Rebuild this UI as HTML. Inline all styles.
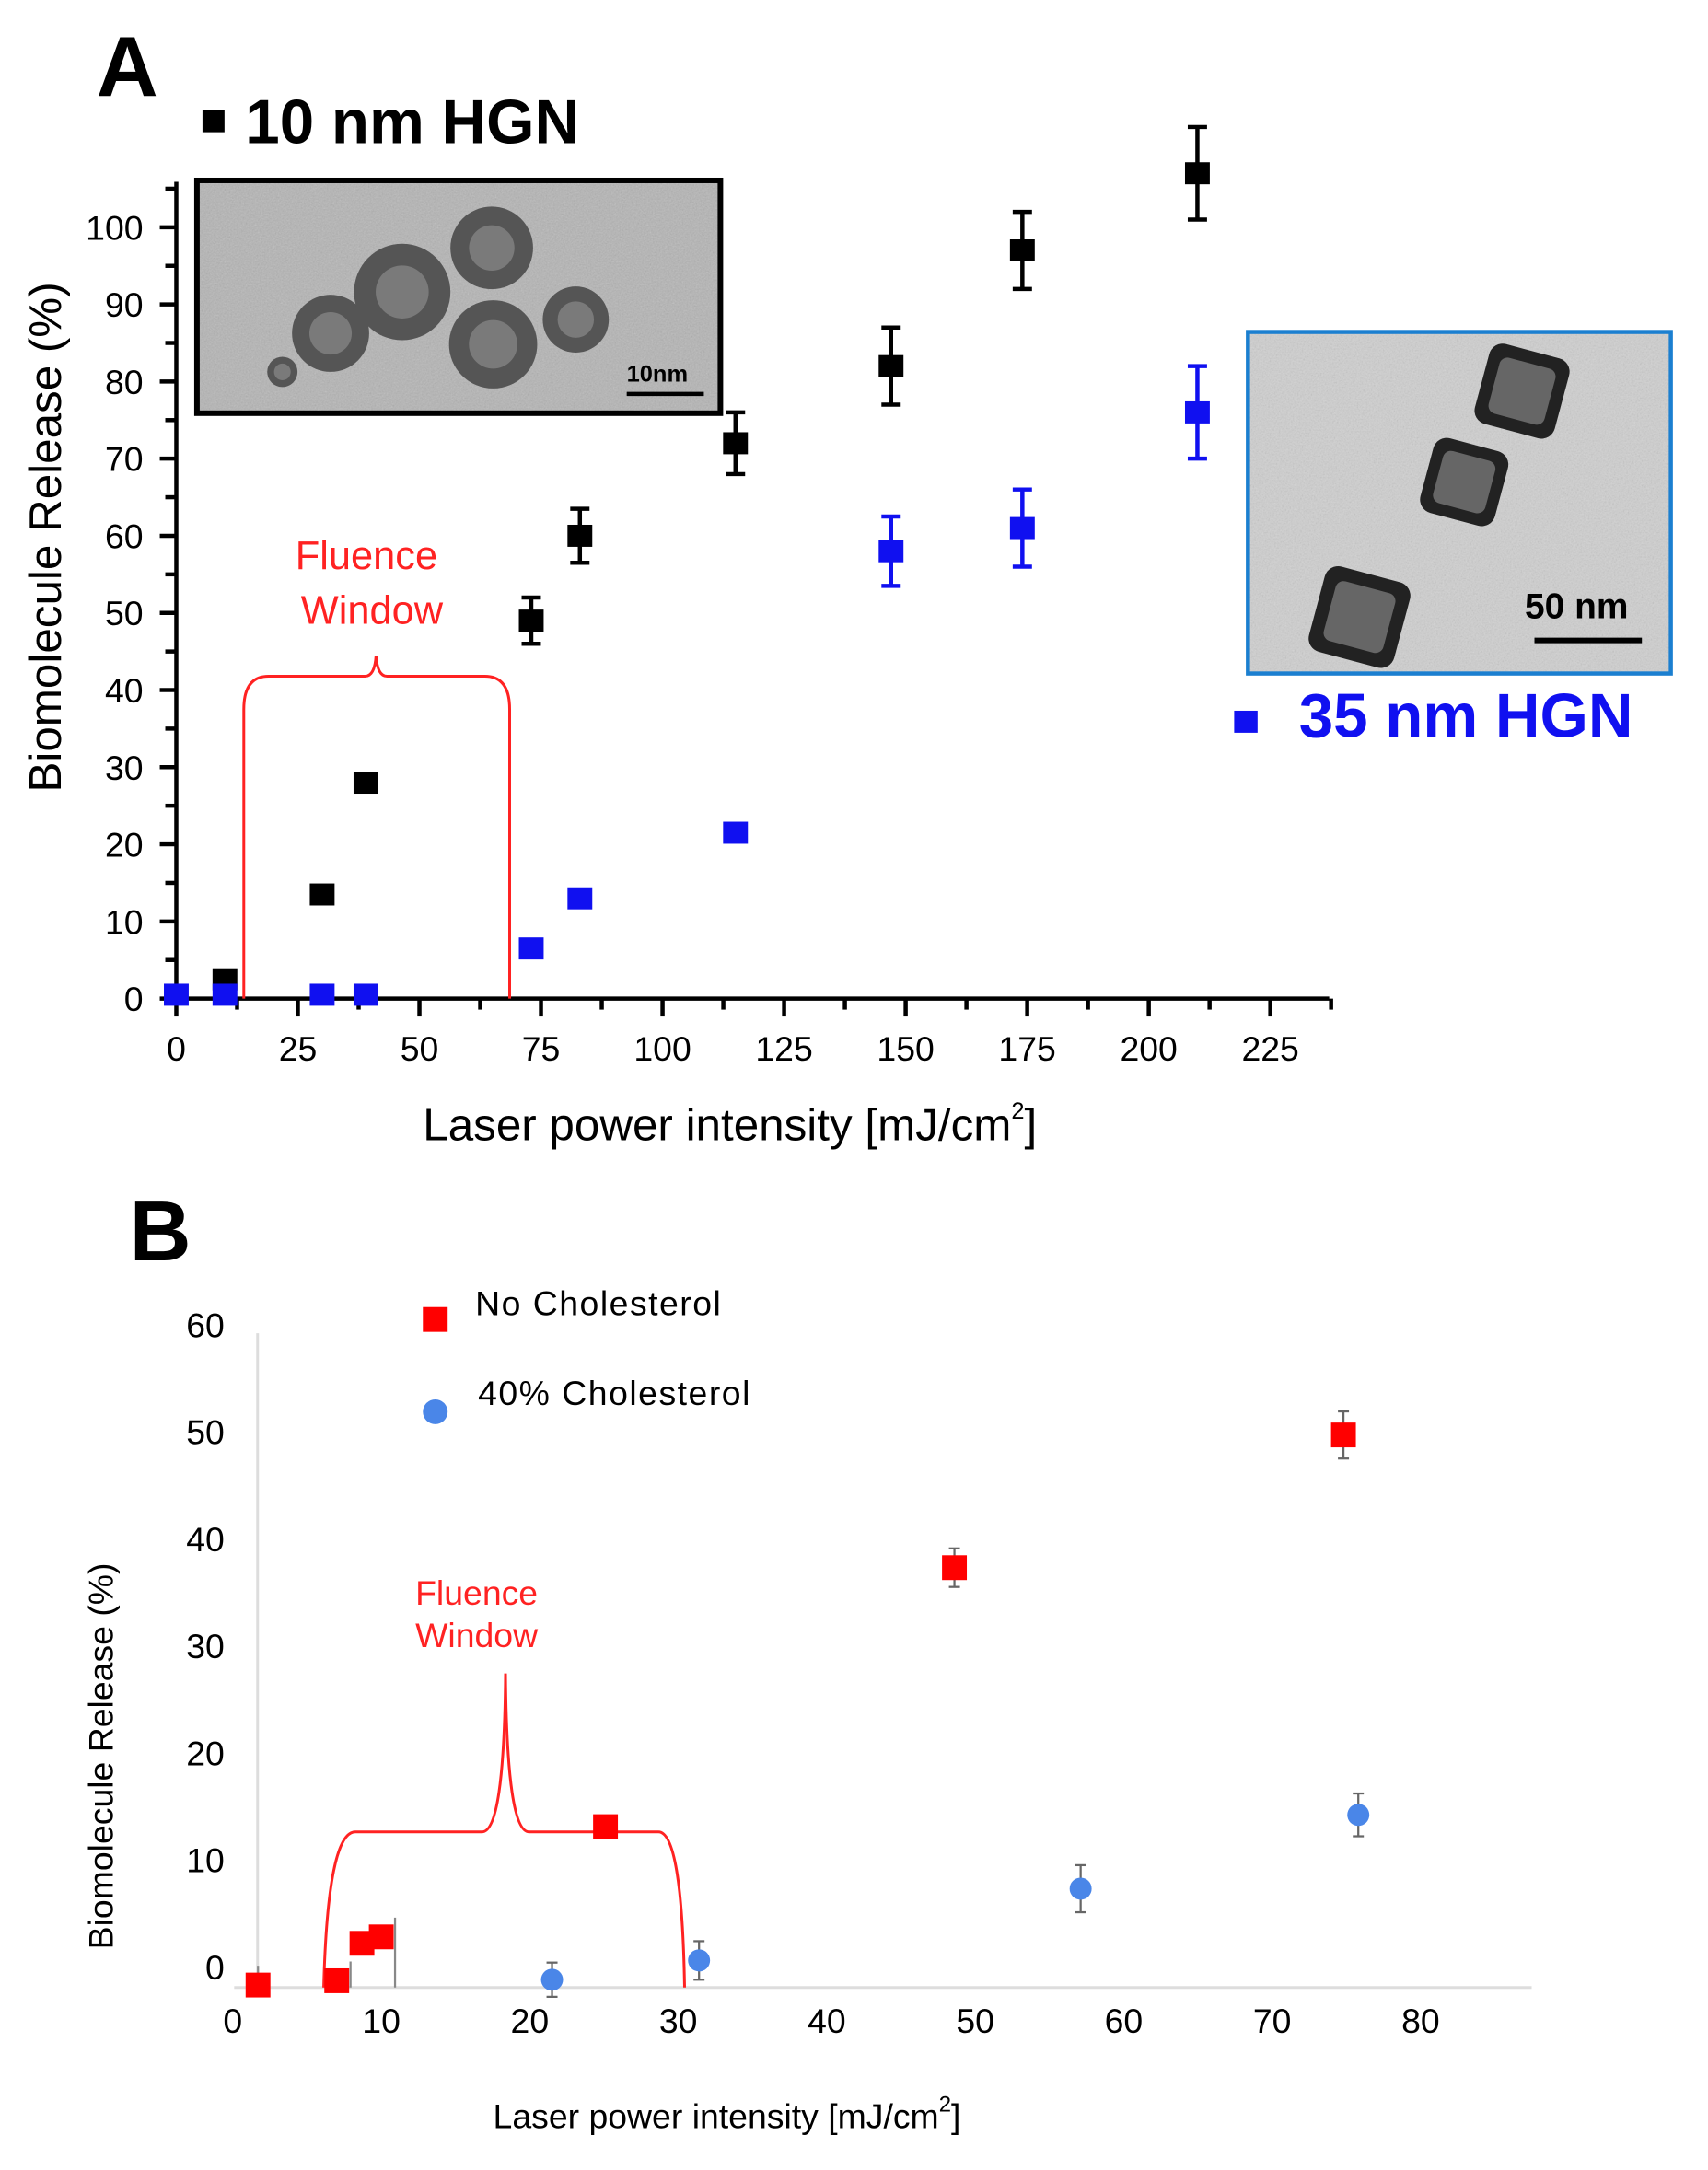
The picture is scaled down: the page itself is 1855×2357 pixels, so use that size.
<!DOCTYPE html>
<html><head><meta charset="utf-8"><style>
html,body{margin:0;padding:0;background:#fff;}
svg{display:block;width:1855px;height:2357px;font-family:"Liberation Sans",sans-serif;}
</style></head><body>
<svg id="fig" viewBox="0 0 1240 1575.5" preserveAspectRatio="none" xmlns="http://www.w3.org/2000/svg">
<defs>
<filter id="noise" x="0" y="0" width="100%" height="100%"><feTurbulence type="fractalNoise" baseFrequency="0.9" numOctaves="2" result="n"/><feColorMatrix type="saturate" values="0"/><feComponentTransfer><feFuncA type="linear" slope="0.35"/></feComponentTransfer></filter>
</defs>
<g id="panelA"></g>
<g id="panelB"></g>
</svg>
<script>
const aBlackX=[10,30,39,73,83,115,147,174,210];
const aBlackY=[2.5,13.5,28,49,60,72,82,97,107];
const aBlackErr=[0,1,1,3,3.5,4,5,5,6];
const aBlueX=[0,10,30,39,73,83,115,147,174,210];
const aBlueY=[0.5,0.5,0.5,0.5,6.5,13,21.5,58,61,76];
const aBlueErr=[0,0,0,0,0,0,0,4.5,5,6];
const aXTicks=[0,25,50,75,100,125,150,175,200,225];
const aYTicks=[0,10,20,30,40,50,60,70,80,90,100];
const bRedX=[1.7,7.0,8.7,10.0,25.1,48.6,74.8];
const bRedY=[-1.7,-1.3,2.2,2.8,13.1,37.3,49.7];
const bRedErr=[0,0,0,0,0,1.8,2.2];
const bBlueX=[21.5,31.4,57.1,75.8];
const bBlueY=[-1.2,0.6,7.3,14.2];
const bBlueErr=[1.6,1.8,2.2,2];
const bXTicks=[0,10,20,30,40,50,60,70,80];
const bYTicks=[0,10,20,30,40,50,60];

const NS="http://www.w3.org/2000/svg";
function mk(parent,tag,attrs,text){const e=document.createElementNS(NS,tag);for(const k in attrs)e.setAttribute(k,attrs[k]);if(text!==undefined)e.textContent=text;parent.appendChild(e);return e;}

// Panel A
const A=document.getElementById('panelA');
const ax=v=>128+v*3.53, ay=v=>725-v*5.6;
let t=mk(A,'text',{x:70,y:70,'font-size':62,'font-weight':'bold'},'A');


let l=mk(A,'line',{x1:128,y1:132,x2:128,y2:727,stroke:'#000','stroke-width':3});

l=mk(A,'line',{x1:126,y1:725,x2:965,y2:725,stroke:'#000','stroke-width':3});

aYTicks.forEach(v=>{
  mk(A,'line',{x1:116,y1:ay(v),x2:128,y2:ay(v),stroke:'#000','stroke-width':3});
  mk(A,'line',{x1:120,y1:ay(v+5),x2:128,y2:ay(v+5),stroke:'#000','stroke-width':3});
  const tx=mk(A,'text',{x:104,y:ay(v)+9,'font-size':25,'text-anchor':'end'},v);
  
  
});
aXTicks.forEach(v=>{
  mk(A,'line',{x1:ax(v),y1:725,x2:ax(v),y2:738,stroke:'#000','stroke-width':3});
  mk(A,'line',{x1:ax(v+12.5),y1:725,x2:ax(v+12.5),y2:733,stroke:'#000','stroke-width':3});
  const tx=mk(A,'text',{x:ax(v),y:770,'font-size':25,'text-anchor':'middle'},v);
  
  
});
t=mk(A,'text',{x:307,y:828,'font-size':33});

mk(t,'tspan',{},'Laser power intensity [mJ/cm');
mk(t,'tspan',{dy:-16,'font-size':17},'2');
mk(t,'tspan',{dy:16},']');
t=mk(A,'text',{x:0,y:0,'font-size':33,'text-anchor':'middle',transform:'translate(44,390) rotate(-90)'},'Biomolecule Release (%)');

let p=mk(A,'path',{d:'M177,725 L177,515 Q177,491 195,491 L265,491 Q272,491 273,476 Q274,491 281,491 L352,491 Q370,491 370,515 L370,725',fill:'none',stroke:'#f22','stroke-width':2});

t=mk(A,'text',{x:266,y:413,'font-size':29,fill:'#f22','text-anchor':'middle'},'Fluence');

mk(A,'text',{x:270,y:453,'font-size':29,fill:'#f22','text-anchor':'middle'},'Window');
function seriesA(xs,ys,es,col,name){
  xs.forEach((x,i)=>{
    const cx=ax(x),cy=ay(ys[i]);
    if(es[i]>0){
      mk(A,'line',{x1:cx,y1:ay(ys[i]+es[i]),x2:cx,y2:ay(ys[i]-es[i]),stroke:col,'stroke-width':3});
      mk(A,'line',{x1:cx-7,y1:ay(ys[i]+es[i]),x2:cx+7,y2:ay(ys[i]+es[i]),stroke:col,'stroke-width':3});
      mk(A,'line',{x1:cx-7,y1:ay(ys[i]-es[i]),x2:cx+7,y2:ay(ys[i]-es[i]),stroke:col,'stroke-width':3});
    }
    const r=mk(A,'rect',{x:cx-9,y:cy-8,width:18,height:16,fill:col});
    
    
  });
}
let g=mk(A,'g',{});

mk(g,'rect',{x:143,y:131,width:380,height:169,fill:'#b4b4b4'});
mk(g,'rect',{x:143,y:131,width:380,height:169,filter:'url(#noise)'});
[[240,242,28],[292,212,35],[357,180,30],[358,250,32],[418,232,24],[205,270,11]].forEach(c=>{
  mk(g,'circle',{cx:c[0],cy:c[1],r:c[2],fill:'#555'});
  mk(g,'circle',{cx:c[0],cy:c[1],r:c[2]*0.55,fill:'#7a7a7a'});
});
mk(g,'text',{x:455,y:277,'font-size':17,'font-weight':'bold'},'10nm');
mk(g,'line',{x1:455,y1:286,x2:511,y2:286,stroke:'#000','stroke-width':3});
mk(g,'rect',{x:143,y:131,width:380,height:169,fill:'none',stroke:'#000','stroke-width':4});
g=mk(A,'g',{});

mk(g,'rect',{x:906,y:241,width:307,height:248,fill:'#cfcfcf'});
mk(g,'rect',{x:906,y:241,width:307,height:248,filter:'url(#noise)'});
[[1105,284,30],[1063,350,28],[987,448,32]].forEach(c=>{
  mk(g,'rect',{x:c[0]-c[2],y:c[1]-c[2],width:c[2]*2,height:c[2]*2,rx:10,fill:'#222',transform:`rotate(15 ${c[0]} ${c[1]})`});
  mk(g,'rect',{x:c[0]-c[2]*0.7,y:c[1]-c[2]*0.7,width:c[2]*1.4,height:c[2]*1.4,rx:6,fill:'#666',transform:`rotate(15 ${c[0]} ${c[1]})`});
});
mk(g,'text',{x:1107,y:449,'font-size':26,'font-weight':'bold'},'50 nm');
mk(g,'line',{x1:1114,y1:465,x2:1192,y2:465,stroke:'#000','stroke-width':4});
mk(g,'rect',{x:906,y:241,width:307,height:248,fill:'none',stroke:'#1b7fd0','stroke-width':3});
seriesA(aBlackX,aBlackY,aBlackErr,'#000','a-10nm-point');
seriesA(aBlueX,aBlueY,aBlueErr,'#1010f0','a-35nm-point');
g=mk(A,'g',{});
mk(g,'rect',{x:147,y:80,width:16,height:16,fill:'#000'});
mk(g,'text',{x:178,y:104,'font-size':45,'font-weight':'bold'},'10 nm HGN');
g=mk(A,'g',{});
mk(g,'rect',{x:896,y:516,width:17,height:16,fill:'#1010f0'});
mk(g,'text',{x:943,y:535,'font-size':45,'font-weight':'bold',fill:'#1010f0'},'35 nm HGN');

// Panel B
const B=document.getElementById('panelB');
const bx=v=>169+v*10.78, by=v=>1428-v*7.77;
t=mk(B,'text',{x:94,y:915,'font-size':62,'font-weight':'bold'},'B');

l=mk(B,'line',{x1:187,y1:968,x2:187,y2:1443,stroke:'#ddd','stroke-width':2});

l=mk(B,'line',{x1:170,y1:1443,x2:1112,y2:1443,stroke:'#ddd','stroke-width':2});

bYTicks.forEach(v=>{
  const tx=mk(B,'text',{x:163,y:by(v)+9,'font-size':25,'text-anchor':'end'},v);
  
  
});
bXTicks.forEach(v=>{
  const tx=mk(B,'text',{x:bx(v),y:1476,'font-size':25,'text-anchor':'middle'},v);
  
  
});
t=mk(B,'text',{x:358,y:1545,'font-size':25});

mk(t,'tspan',{},'Laser power intensity [mJ/cm');
mk(t,'tspan',{dy:-12,'font-size':16},'2');
mk(t,'tspan',{dy:12},']');
t=mk(B,'text',{x:0,y:0,'font-size':25,'text-anchor':'middle',transform:'translate(82,1275) rotate(-90)'},'Biomolecule Release (%)');

p=mk(B,'path',{d:'M235,1443 Q238,1330 258,1330 L350,1330 Q366,1330 367,1215 Q368,1330 384,1330 L478,1330 Q495,1330 497,1443',fill:'none',stroke:'#f22','stroke-width':2});

t=mk(B,'text',{x:346,y:1165,'font-size':25,fill:'#f22','text-anchor':'middle'},'Fluence');

mk(B,'text',{x:346,y:1196,'font-size':25,fill:'#f22','text-anchor':'middle'},'Window');
function errB(cx,v,e,col){
  mk(B,'line',{x1:cx,y1:by(v+e),x2:cx,y2:by(v-e),stroke:col,'stroke-width':1.5});
  mk(B,'line',{x1:cx-4,y1:by(v+e),x2:cx+4,y2:by(v+e),stroke:col,'stroke-width':1.5});
  mk(B,'line',{x1:cx-4,y1:by(v-e),x2:cx+4,y2:by(v-e),stroke:col,'stroke-width':1.5});
}
[0,1,3].forEach(i=>{
  mk(B,'line',{x1:bx(bRedX[i])+(i?10:0),y1:by(bRedY[i])-14,x2:bx(bRedX[i])+(i?10:0),y2:1443,stroke:'#888','stroke-width':1.5});
});
bBlueX.forEach((x,i)=>{
  errB(bx(x),bBlueY[i],bBlueErr[i],'#666');
  const c=mk(B,'circle',{cx:bx(x),cy:by(bBlueY[i]),r:8,fill:'#4a86e8'});
  
  
});
bRedX.forEach((x,i)=>{
  if(bRedErr[i]>0)errB(bx(x),bRedY[i],bRedErr[i],'#666');
  const r=mk(B,'rect',{x:bx(x)-9,y:by(bRedY[i])-9,width:18,height:18,fill:'#f00'});
  
  
});
g=mk(B,'g',{});
mk(g,'rect',{x:307,y:949,width:18,height:18,fill:'#f00'});
mk(g,'text',{x:345,y:955,'font-size':25,'letter-spacing':'1'},'No Cholesterol');
g=mk(B,'g',{});
mk(g,'circle',{cx:316,cy:1025,r:9,fill:'#4a86e8'});
mk(g,'text',{x:347,y:1020,'font-size':25,'letter-spacing':'1'},'40% Cholesterol');
</script>
</body></html>
